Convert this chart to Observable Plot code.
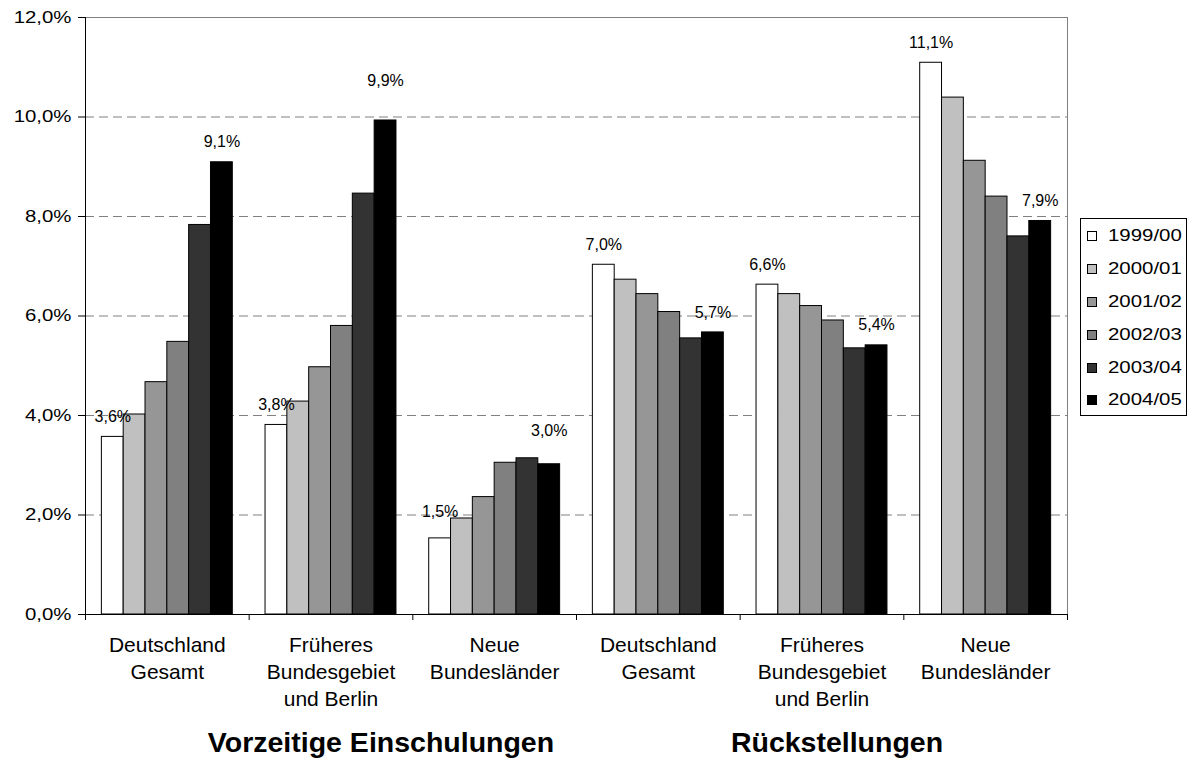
<!DOCTYPE html>
<html>
<head>
<meta charset="utf-8">
<script src="https://cdn.jsdelivr.net/npm/d3@7"></script>
<script src="https://cdn.jsdelivr.net/npm/@observablehq/plot@0.6"></script>
<style>
  body { margin: 0; background: #fff; font-family: "Liberation Sans", Arial, sans-serif; color: #000; }
  #wrap { position: relative; width: 1192px; height: 760px; overflow: hidden; }
  #chart { position: absolute; left: 0; top: 0; }
  #legend { position: absolute; left: 1080px; top: 218px; width: 107px; height: 198px; border: 1px solid #000; background: #fff; box-sizing: border-box; padding-top: 1px; }
  .row { height: 32.8px; display: flex; align-items: center; }
  .sw { width: 8px; height: 8px; border: 1px solid #000; margin-left: 6px; flex: none; }
  .lt { margin-left: 11px; font-size: 17px; transform: scaleX(1.2); transform-origin: left center; white-space: nowrap; }
  .sect { position: absolute; top: 728px; font-size: 28.5px; line-height: 28.5px; font-weight: bold; transform: translateX(-50%); white-space: nowrap; }
</style>
</head>
<body>
<div id="wrap">
  <div id="chart"></div>
  <div id="legend"></div>
  <div id="sect1" class="sect" style="left:381px"></div>
  <div id="sect2" class="sect" style="left:837px"></div>
</div>
<script>
// ---- data ----
const groups = [
  "Deutschland\nGesamt",
  "Früheres\nBundesgebiet\nund Berlin",
  "Neue\nBundesländer",
  "Deutschland\nGesamt",
  "Früheres\nBundesgebiet\nund Berlin",
  "Neue\nBundesländer"
];
const sections = ["Vorzeitige Einschulungen", "Rückstellungen"];
const years = ["1999/00", "2000/01", "2001/02", "2002/03", "2003/04", "2004/05"];
const v1999 = [3.57, 3.81, 1.53, 7.03, 6.63, 11.09];
const v2000 = [4.02, 4.28, 1.93, 6.73, 6.44, 10.39];
const v2001 = [4.67, 4.97, 2.36, 6.44, 6.20, 9.12];
const v2002 = [5.48, 5.80, 3.05, 6.08, 5.91, 8.40];
const v2003 = [7.83, 8.46, 3.14, 5.55, 5.35, 7.60];
const v2004 = [9.09, 9.93, 3.02, 5.67, 5.41, 7.91];
const yTicks = [0, 2, 4, 6, 8, 10, 12];

// ---- styles ----
const colors = ["#ffffff", "#c0c0c0", "#969696", "#808080", "#333333", "#000000"];
const series = [v1999, v2000, v2001, v2002, v2003, v2004];

const rows = [];
groups.forEach((g, i) => series.forEach((vals, j) => rows.push({g: i, s: j, year: years[j], value: vals[i]})));

const fmt = v => (Math.round(v * 10) / 10).toFixed(1).replace(".", ",") + "%";
// labels only on first and last series of each group
const labelRows = rows.filter(d => d.s === 0 || d.s === years.length - 1);
const nudge = {"1-5": -40, "2-5": -33, "2-0": -27};
const key = d => d.g + "-" + d.s;

// bar geometry inside each group (band with outer padding 0.75 step)
const nb = years.length, span = nb + 1.5;
const bx1 = d => d.g + (0.75 + d.s) / span;
const bx2 = d => d.g + (1.75 + d.s) / span;
const bxc = d => d.g + (1.25 + d.s) / span;

const labelMark = (filter, dy) => Plot.text(labelRows.filter(filter), {
  x: bxc, y: "value", text: d => fmt(d.value), dy, lineAnchor: "middle",
  fontSize: 16, fill: "#000", ariaLabel: "data-label"
});

const chart = Plot.plot({
  width: 1192,
  height: 700,
  marginLeft: 85,
  marginRight: 125,
  marginTop: 17,
  marginBottom: 86,
  x: {type: "linear", domain: [0, groups.length], axis: null},
  y: {domain: [0, 12], axis: null},
  color: {domain: years, range: colors},
  style: {fontFamily: "'Liberation Sans', Arial, sans-serif", fontSize: "17px", color: "#000", background: "#fff", overflow: "visible"},
  marks: [
    Plot.gridY(yTicks.filter(t => t > 0 && t < 12), {stroke: "#808080", strokeOpacity: 1, strokeDasharray: "9,5"}),
    Plot.ruleY([12], {stroke: "#808080"}),
    Plot.ruleX([groups.length], {stroke: "#808080"}),
    Plot.rect(rows, {x1: bx1, x2: bx2, y1: 0, y2: "value", fill: "year", stroke: "#000", strokeWidth: 1}),
    Plot.ruleX([0], {stroke: "#000"}),
    Plot.ruleY([0], {stroke: "#000"}),
    Plot.axisY({ticks: yTicks, tickFormat: d => d.toFixed(1).replace(".", ",") + "%", tickSize: 7, tickPadding: 7, fontSize: 17, label: null}),
    Plot.axisX({ticks: d3.range(groups.length + 1), tickFormat: () => "", tickSize: 6, label: null}),
    Plot.axisX({ticks: d3.range(groups.length).map(i => i + 0.5), tickFormat: d => groups[Math.floor(d)], tickSize: 0, tickPadding: 19, fontSize: 21, lineHeight: 1.27, label: null}),
    labelMark(d => !(key(d) in nudge), -20),
    ...Object.entries(nudge).map(([k, dy]) => labelMark(d => key(d) === k, dy))
  ]
});

// numeric texts in the original are slightly wide
chart.querySelectorAll('g[aria-label="y-axis tick label"] text').forEach(t => t.setAttribute("transform", (t.getAttribute("transform") || "") + " scale(1.2,1)"));
chart.querySelectorAll('g[aria-label="data-label"] text').forEach(t => t.setAttribute("transform", (t.getAttribute("transform") || "") + " scale(1.12,1)"));

document.getElementById("chart").append(chart);

// legend
const legend = document.getElementById("legend");
years.forEach((y, j) => {
  const row = document.createElement("div");
  row.className = "row";
  const sw = document.createElement("div");
  sw.className = "sw";
  sw.style.background = colors[j];
  const lt = document.createElement("span");
  lt.className = "lt";
  lt.textContent = y;
  row.append(sw, lt);
  legend.append(row);
});
document.getElementById("sect1").textContent = sections[0];
document.getElementById("sect2").textContent = sections[1];
</script>
</body>
</html>
